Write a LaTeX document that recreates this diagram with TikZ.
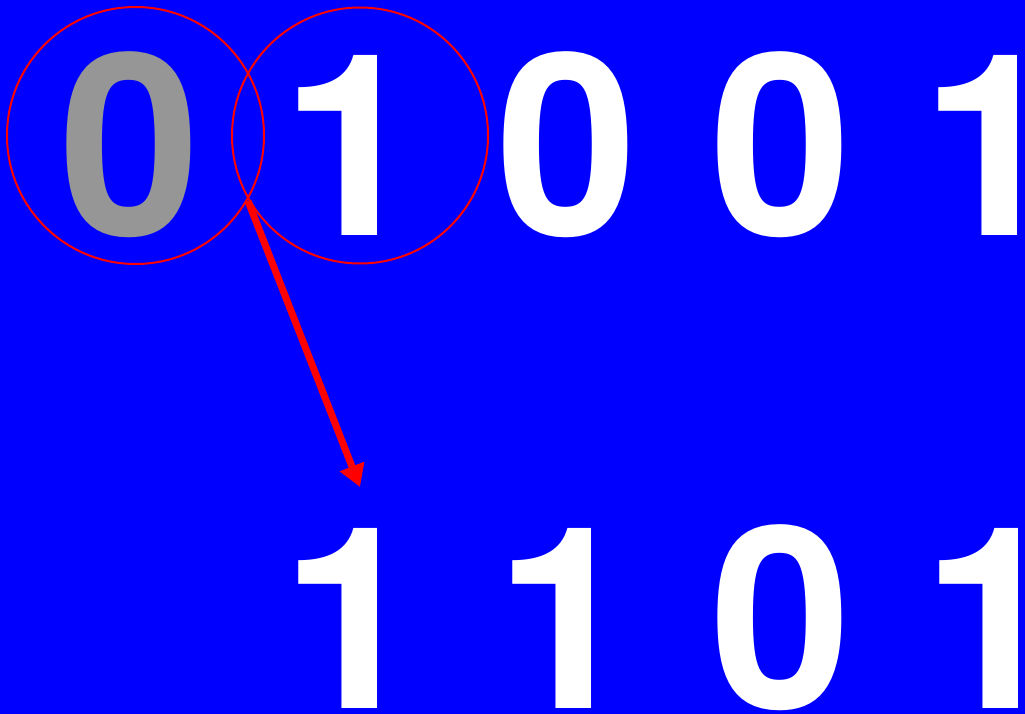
\documentclass[tikz,border=0pt]{standalone}
\usepackage{fontspec}
\setmainfont{TeX Gyre Heros}
\usetikzlibrary{arrows.meta}
\definecolor{bg}{RGB}{0,0,255}
\definecolor{dimgray}{RGB}{150,150,150}
\definecolor{redline}{RGB}{255,0,0}
\tikzset{
  digit/.style={anchor=base, inner sep=0pt, text=white, font=\bfseries\fontsize{254}{254}\selectfont},
  ring/.style={draw=redline, line width=2pt},
  pointer/.style={draw=redline, line width=7pt, -{Triangle[length=22pt,width=25pt]}}
}
\begin{document}
\begin{tikzpicture}[x=1pt,y=-1pt]
\fill[bg] (0,0) rectangle (1025,714);
\useasboundingbox (0,0) rectangle (1025,714);
\clip (0,0) rectangle (1025,714);
% top row
\node[digit, text=dimgray] (t1) at (130,235) {0};
\node[digit] (t2) at (352,235) {1};
\node[digit] (t3) at (567,235) {0};
\node[digit] (t4) at (781,235) {0};
\node[digit] (t5) at (992,235) {1};
% bottom row
\node[digit] (b2) at (352,708) {1};
\node[digit] (b3) at (566,708) {1};
\node[digit] (b4) at (781,708) {0};
\node[digit] (b5) at (993,708) {1};
% circles
\node[ring, circle, minimum size=257pt, inner sep=0pt] (c1) at (135.5,135.5) {};
\node[ring, circle, minimum size=256pt, inner sep=0pt] (c2) at (360,135.5) {};
% arrow
\coordinate (s) at (248,201);
\coordinate (e) at (360,487);
\draw[pointer] (s) -- (e);
\end{tikzpicture}
\end{document}
